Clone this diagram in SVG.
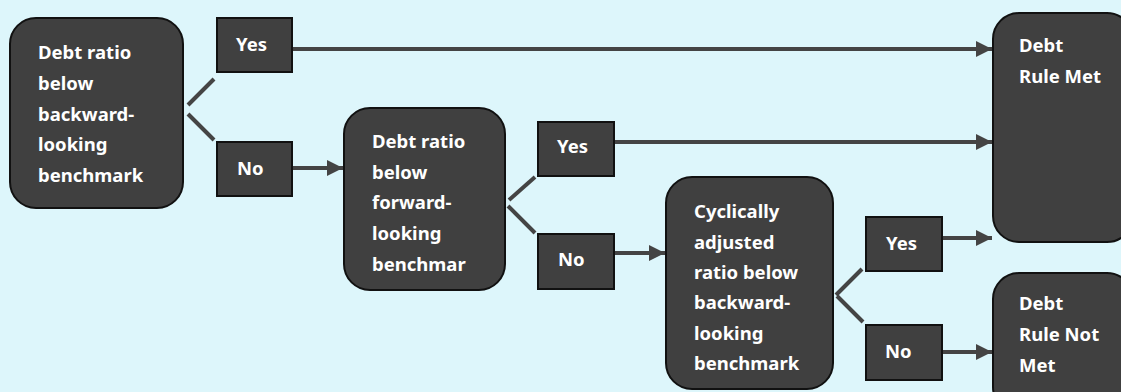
<svg xmlns="http://www.w3.org/2000/svg" width="1121" height="392" viewBox="0 0 1121 392">
<defs>
<style>
.bg{fill:#ddf6fb}
.node{fill:#404040;stroke:#111;stroke-width:2}
.t{fill:#fff;font-family:"Noto Sans","Open Sans","Liberation Sans",sans-serif;font-weight:bold;font-size:18.5px}
.c{stroke:#444;stroke-width:4;fill:none}
.a{stroke:#444;stroke-width:4;fill:none;marker-end:url(#ah)}
</style>
<marker id="ah" viewBox="0 0 10 10" refX="10" refY="5" markerWidth="4" markerHeight="4.5" orient="auto" markerUnits="strokeWidth">
<path d="M0,0 L10,5 L0,10 z" fill="#444"/>
</marker>
</defs>
<rect class="bg" x="0" y="0" width="1121" height="392"/>

<g id="connectors">
<line class="c" x1="188" y1="105" x2="214" y2="79"/>
<line class="c" x1="188" y1="114" x2="214" y2="140"/>
<line class="a" x1="292" y1="168" x2="343" y2="168"/>
<line class="a" x1="292" y1="49" x2="992" y2="49"/>
<line class="c" x1="509" y1="200" x2="535" y2="177"/>
<line class="c" x1="508" y1="206" x2="535" y2="233"/>
<line class="a" x1="614" y1="253" x2="665" y2="253"/>
<line class="a" x1="614" y1="142" x2="992" y2="142"/>
<line class="c" x1="836" y1="295" x2="862" y2="269"/>
<line class="c" x1="837" y1="296" x2="863" y2="322"/>
<line class="a" x1="942" y1="238" x2="992" y2="238"/>
<line class="a" x1="942" y1="352" x2="992" y2="352"/>
</g>

<g id="node-q1">
<rect class="node" x="10" y="18" width="173" height="190" rx="26"/>
<text class="t"><tspan x="38" y="59">Debt ratio</tspan><tspan x="38" y="90">below</tspan><tspan x="38" y="121">backward-</tspan><tspan x="38" y="151">looking</tspan><tspan x="38" y="182">benchmark</tspan></text>
</g>
<g id="node-yes1">
<rect class="node" x="217" y="18" width="75" height="54"/>
<text class="t" x="236" y="51">Yes</text>
</g>
<g id="node-no1">
<rect class="node" x="217" y="142" width="75" height="54"/>
<text class="t" x="237" y="175">No</text>
</g>

<g id="node-q2">
<rect class="node" x="344" y="108" width="161" height="182" rx="26"/>
<text class="t"><tspan x="372" y="148">Debt ratio</tspan><tspan x="372" y="179">below</tspan><tspan x="372" y="209">forward-</tspan><tspan x="372" y="240">looking</tspan><tspan x="372" y="271">benchmar</tspan></text>
</g>
<g id="node-yes2">
<rect class="node" x="538" y="122" width="76" height="54"/>
<text class="t" x="557" y="153">Yes</text>
</g>
<g id="node-no2">
<rect class="node" x="538" y="234" width="76" height="55"/>
<text class="t" x="558" y="266">No</text>
</g>

<g id="node-q3">
<rect class="node" x="666" y="177" width="167" height="212" rx="26"/>
<text class="t"><tspan x="694" y="218">Cyclically</tspan><tspan x="694" y="249">adjusted</tspan><tspan x="694" y="279">ratio below</tspan><tspan x="694" y="309">backward-</tspan><tspan x="694" y="340">looking</tspan><tspan x="694" y="370">benchmark</tspan></text>
</g>
<g id="node-yes3">
<rect class="node" x="866" y="217" width="76" height="54"/>
<text class="t" x="886" y="250">Yes</text>
</g>
<g id="node-no3">
<rect class="node" x="866" y="325" width="76" height="55"/>
<text class="t" x="885" y="358">No</text>
</g>

<g id="node-met">
<rect class="node" x="993" y="13" width="140" height="229" rx="26"/>
<text class="t"><tspan x="1019" y="52">Debt</tspan><tspan x="1019" y="83">Rule Met</tspan></text>
</g>
<g id="node-notmet">
<rect class="node" x="993" y="273" width="140" height="140" rx="26"/>
<text class="t"><tspan x="1019" y="310">Debt</tspan><tspan x="1019" y="341">Rule Not</tspan><tspan x="1019" y="372">Met</tspan></text>
</g>
</svg>
